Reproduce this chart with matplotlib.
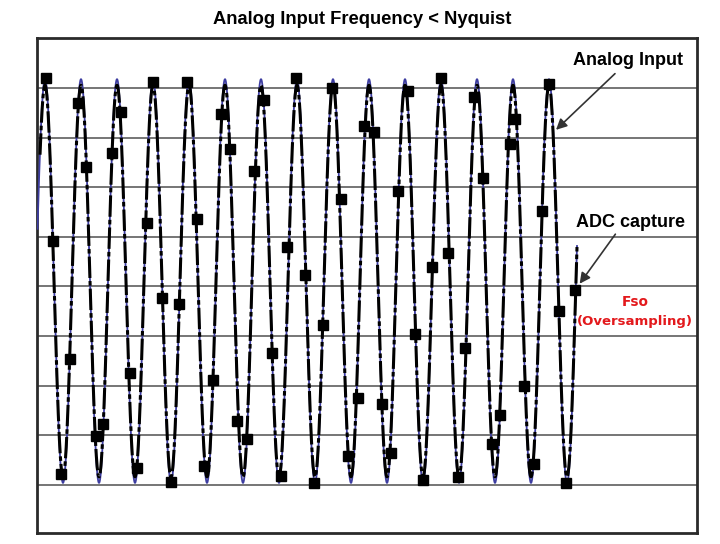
import numpy as np
import matplotlib
matplotlib.use('Agg')
import matplotlib.pyplot as plt

# %% data (x: time units from left frame edge, y: level in grid divisions)

title = 'Analog Input Frequency < Nyquist'

# analog input sine, parameters
sig_period = 36.0
sig_peak_t = 8.0
sig_center = 4.11
sig_amp = 4.07
sig_t_start = 0.5
sig_t_end = 540.0

# ADC captured samples
adc_t = [9, 16, 24, 33, 41, 49, 59, 66, 75, 84, 93, 100, 110, 116, 125, 134,
         142, 150, 160, 167, 176, 184, 193, 200, 210, 217, 227, 235, 244, 250,
         259, 268, 277, 286, 295, 304, 311, 321, 327, 337, 345, 354, 361, 371,
         378, 386, 395, 404, 411, 421, 428, 437, 446, 455, 463, 473, 478, 487,
         497, 505, 512, 522, 529, 538]
adc_v = [8.21, 4.92, 0.22, 2.54, 7.70, 6.41, 0.99, 1.23, 6.69, 7.52, 2.26,
         0.34, 5.28, 8.13, 3.77, 0.06, 3.65, 8.13, 5.36, 0.38, 2.12, 7.48,
         6.77, 1.29, 0.93, 6.33, 7.76, 2.66, 0.18, 4.80, 8.21, 4.23, 0.04,
         3.23, 8.00, 5.77, 0.58, 1.75, 7.24, 7.12, 1.63, 0.65, 5.93, 7.94,
         3.04, 0.10, 4.40, 8.21, 4.68, 0.16, 2.76, 7.82, 6.19, 0.83, 1.41,
         6.88, 7.38, 2.00, 0.42, 5.52, 8.08, 3.51, 0.04, 3.93]

grid_levels = [0, 1, 2, 3, 4, 5, 6, 7, 8]

# %% figure

fig = plt.figure(figsize=(7.2, 5.44), dpi=100)
ax = fig.add_axes([37 / 720, 11 / 544, 660 / 720, 495 / 544])

t = np.linspace(sig_t_start, sig_t_end, 6000)
analog = sig_center + sig_amp * np.cos(2 * np.pi * (t - sig_peak_t) / sig_period)
ax.plot(t, analog, color='#3c3ca0', lw=1.3, zorder=3)

tc = t[t >= 3]
capture = sig_center + 0.97 * sig_amp * np.cos(2 * np.pi * (tc - sig_peak_t) / sig_period)
ax.plot(tc, capture, color='black', lw=2.2, ls=(0, (7, 1, 1.5, 1)), zorder=4)

ax.plot(adc_t, adc_v, 's', color='black', markersize=7, zorder=5)

ax.set_xlim(0, 660)
ax.set_ylim(-0.97, 9.01)
ax.set_yticks(grid_levels)
ax.set_xticks([])
ax.tick_params(left=False, labelleft=False)
ax.grid(axis='y', color='#6a6a6a', lw=1.3, zorder=1)
for s in ax.spines.values():
    s.set_color('#2a2a2a')
    s.set_linewidth(2)

fig.text(362 / 720, 1 - 19 / 544, title, ha='center', va='center',
         fontsize=13.2, fontweight='bold', family='Liberation Sans')

# annotations
ax.text(591, 8.55, 'Analog Input', ha='center', va='center', fontsize=13,
        fontweight='bold', family='Liberation Sans')
ax.annotate('', xy=(517, 7.12), xytext=(580, 8.33),
            arrowprops=dict(arrowstyle='-|>', color='#333333', lw=1.2,
                            mutation_scale=16))
ax.text(594, 5.30, 'ADC capture', ha='center', va='center', fontsize=13,
        fontweight='bold', family='Liberation Sans')
ax.annotate('', xy=(541, 4.01), xytext=(580, 5.10),
            arrowprops=dict(arrowstyle='-|>', color='#333333', lw=1.2,
                            mutation_scale=16))
ax.text(598, 3.69, 'Fso', ha='center', va='center', fontsize=9.8,
        fontweight='bold', color='#e3191c', family='DejaVu Sans')
ax.text(598, 3.30, '(Oversampling)', ha='center', va='center', fontsize=9.5,
        fontweight='bold', color='#e3191c', family='DejaVu Sans')

fig.savefig('out.png', dpi=100)
